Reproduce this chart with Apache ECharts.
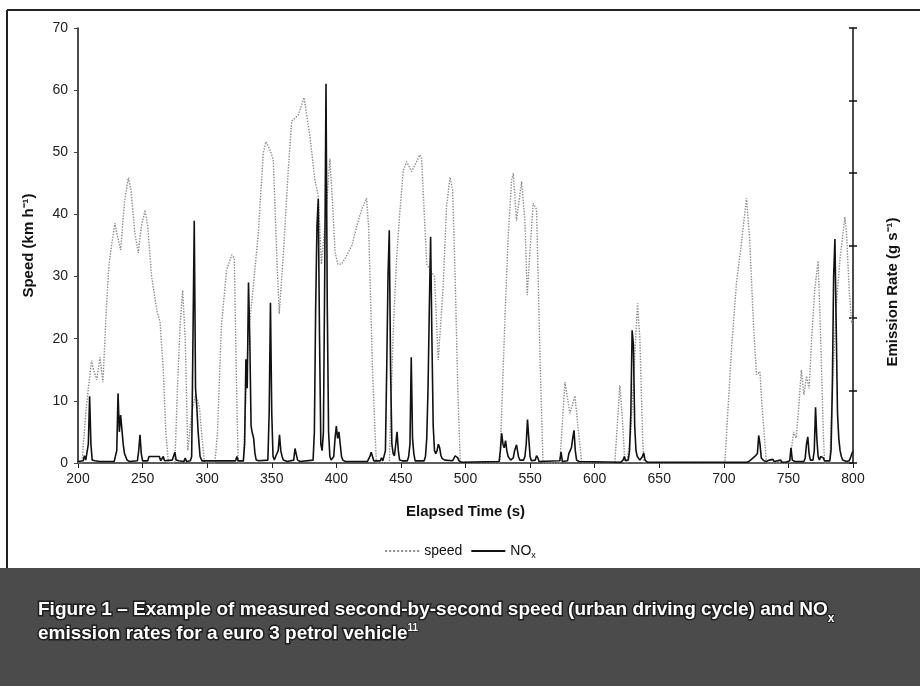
<!DOCTYPE html>
<html><head><meta charset="utf-8">
<script src="https://cdn.jsdelivr.net/npm/echarts@6/dist/echarts.min.js"></script>
<style>html,body{margin:0;padding:0;background:#fff}#c{width:920px;height:686px}</style>
</head><body><div id="c"></div>
<script>
// Elapsed time (s) and speed (km/h)
const speedTime = [200,203,206,208,210.5,212,214.5,217,219.3,222,224,226,228.6,230,233,236,239,241,244,246.7,249,252,254,257,261,263.5,266,268,270,
275,277,279,281,283,285,288,291,294,296,298,
306,308,311,315,319,321,322.5,324,
328,331.8,335.7,339.6,343.4,345.5,348.6,351.2,353.8,355.8,359,362.8,365.4,370.5,375,379.6,383.4,386,388.5,392,395,397,399,401,404,407,412,417,420,423.4,425,428,431,
441,444,446.7,449,451.8,454.4,458.3,461,464.7,466,470,473,476,478.9,482.7,485.3,488,490,492,494,496,
526.6,530.5,533,535.7,537,539.5,543.4,546,547.8,549.8,552.4,555,557.6,560,
573,577,580.8,584.7,587,590,
615.6,619.5,621.5,623.4,625,628,631,633.2,635,637,638,
700.8,706,709.8,714,717.5,720,723,725.3,727.9,730,733,
751,754,756,758,760,762,764,766,768,770.4,773,775,777,778,
782,784,787,790,793.7,795,797,799,800];
const speedValue = [0,0,8,12,16.5,15,13.4,17,13,25,32,35,38.6,37,34.3,42,45.9,44,37,33.8,38,40.7,38,30,24.6,22.7,15,5,0,
0,12,22,27.8,20,2,8,11,9,4,0,
0,5,22,31,33.5,33,15,0,
0,20.3,28.4,37,49.8,51.7,50.4,48.8,33.7,24,33.7,47.2,55,56,58.8,52.5,45.5,43,32,40,49,42,34,32,32,33,35,39,41,42.6,38,15,0,
0,21,33,40,47,48.5,46.9,48,49.6,49,32,31,30,16.6,28.4,41.2,46,44,30,12,0,
0,23,36.4,45.5,46.6,39,45.3,39,27,33.7,41.8,40.8,17.7,0,
0,13,8,10.8,6,0,
0,12.5,7,0,0,5,17,25.7,20,5,0,
0,18.5,29,36,42.6,36,22,14.2,14.7,8,0,
0,5,4,9,15,11,14,12,20,28,32.5,20,5,0,
0,12,25,33,39.6,37,28,22.5,23];

// Elapsed time (s) and NOx emission rate (mg/s)
const noxTime = [200,204,205,206,207,208,209,210,211,213,217,228,230,231,232,233,234,235,236,238,240,246,247,248,249,250,254,255,263,264,265,266,267,273,275,276,278,282,283,284,287,288,289,290,291,292,293,294.5,296,
322,323,324,328,329,330,331,332,333,334,335,336,337,338,340,347,348,349,350,351,352,353,355,356,357,358,359,362,367,368,369,370,372,
382,383,384,385,386,387,388,389,390,391,392,393,394,395,396,398,399,400,401,402,403,404,405,407,
424,426,427,428,429,434,435,436,437,438,439,440,441,442,443,444,445,446,447,448,449,451,455,456,457,458,459,460,461,
468,469,470,471,472,473,474,475,476,477,478,479,480,481,482,484,490,491,492,493,494,495,497,
526,527,528,529,530,531,532,533,535,537,538,539.5,541,542,545,546,547,548,549,550,551,554,555,556,557,
573,574,575,579,580,581,582,583,584,585,586,588,
620,622,623,624,626,627,628,629,630,631,632,633,635,637,638,639,641,
718,720,722,724,726,727,728,729,731,733,735,736,738,739,744,745,748,751,752,753,755,762,763,764,765,766,767,769,770,771,772,773,774,775,776,777,778,
782,783,784,785,786,787,788,789,790,791,792,795,797,798,799,800];
const noxValue = [2,3,10,4,4,26,92,26,4,3,2,2,17,96,43,66,66,26,13,4,2,3,17,39,13,3,3,9,9,3,4,9,3,4,15,4,3,2,7,2,3,9,171,334,103,77,43,9,3,
3,9,3,3,26,143,103,249,171,51,41,34,13,4,3,4,69,221,69,9,4,9,17,39,17,9,4,2,4,20,20,4,2,
4,43,214,326,364,171,26,17,43,257,523,214,43,9,4,9,34,51,34,43,26,9,4,2,
2,9,15,9,3,3,7,3,3,17,129,257,321,129,26,13,10,26,43,17,4,3,3,9,26,146,34,13,3,
3,9,34,103,214,312,171,51,17,13,17,26,21,10,6,4,3,5,10,12,7,3,1,
2,17,41,26,21,31,17,9,4,7,17,25,9,4,4,9,26,60,34,9,3,4,10,7,2,
3,15,2,3,13,17,21,34,45,17,4,2,
1,4,9,3,4,17,69,183,163,51,17,9,4,9,14,4,1,
1,3,6,9,13,38,26,7,3,2,4,2,5,2,4,1,1,3,21,4,2,2,7,26,36,13,4,4,17,77,34,9,4,9,11,7,3,
3,17,103,257,309,189,69,34,17,9,4,2,3,7,12,17];

// Tick labels
const xTickLabels = [200,250,300,350,400,450,500,550,600,650,700,750,800];
const yTickLabels = [0,10,20,30,40,50,60,70];
const rightTicks = [0,100,200,300,400,500,600];

const speedData = speedTime.map((t,i)=>[t,speedValue[i]]);
const noxData = noxTime.map((t,i)=>[t,noxValue[i]]);

const FONT = "'Liberation Sans', Arial, sans-serif";
const CAP = "'Liberation Sans Narrow', 'Liberation Sans', sans-serif";
const chart = echarts.init(document.getElementById('c'), null, {renderer:'canvas'});
const rightAxisBase = {
  type:'value', position:'right',
  min: rightTicks[0], max: rightTicks[rightTicks.length-1], interval: rightTicks[1]-rightTicks[0],
  axisLabel:{show:false}, splitLine:{show:false}
};
chart.setOption({
  backgroundColor:'#ffffff',
  animation:false,
  grid:{left:78, right:67, top:28, bottom:223, containLabel:false},
  legend:{
    data:['speed','NOx'], left:'center', top:539, itemWidth:34, itemHeight:10, itemGap:8,
    itemStyle:{opacity:0, borderWidth:0},
    textStyle:{fontFamily:FONT, fontSize:14, color:'#111', rich:{s:{fontFamily:FONT,fontSize:9,color:'#111',verticalAlign:'bottom',lineHeight:18}}},
    formatter: n => n === 'NOx' ? 'NO{s|x}' : n
  },
  xAxis:[{
    type:'value', min:xTickLabels[0], max:xTickLabels[xTickLabels.length-1], interval:xTickLabels[1]-xTickLabels[0],
    position:'bottom',
    axisLine:{show:true, lineStyle:{color:'#111', width:2}},
    axisTick:{show:true, length:5, lineStyle:{color:'#222', width:1}},
    axisLabel:{fontFamily:FONT, fontSize:14, color:'#222', margin:9},
    splitLine:{show:false},
    name:'Elapsed Time (s)', nameLocation:'middle', nameGap:41,
    nameTextStyle:{fontFamily:FONT, fontSize:15, fontWeight:'bold', color:'#111'}
  },{
    type:'value', min:xTickLabels[0], max:xTickLabels[xTickLabels.length-1], position:'top',
    axisLine:{show:true, lineStyle:{color:'#777', width:1.5}},
    axisTick:{show:false}, axisLabel:{show:false}, splitLine:{show:false}
  }],
  yAxis:[{
    type:'value', min:yTickLabels[0], max:yTickLabels[yTickLabels.length-1], interval:yTickLabels[1]-yTickLabels[0],
    position:'left',
    axisLine:{show:true, lineStyle:{color:'#111', width:1.5}},
    axisTick:{show:true, length:4, lineStyle:{color:'#444'}},
    axisLabel:{fontFamily:FONT, fontSize:14, color:'#222', margin:10},
    splitLine:{show:false},
    name:'Speed (km h\u207B\u00B9)', nameLocation:'middle', nameGap:42, nameRotate:90,
    nameTextStyle:{fontFamily:FONT, fontSize:15, fontWeight:'bold', color:'#111'}
  },
  Object.assign({}, rightAxisBase, {
    axisLine:{show:true, lineStyle:{color:'#111', width:1.5}},
    axisTick:{show:true, length:4, inside:false, lineStyle:{color:'#111', width:1.5}}
  }),
  Object.assign({}, rightAxisBase, {
    axisLine:{show:false},
    axisTick:{show:true, length:4, inside:true, lineStyle:{color:'#111', width:1.5}}
  })],
  series:[{
    name:'speed', type:'line', xAxisIndex:0, yAxisIndex:0, data:speedData,
    symbol:'none', showSymbol:false, z:2,
    lineStyle:{color:'#8c8c8c', width:1.4, type:'dotted'},
    itemStyle:{color:'#8c8c8c'}
  },{
    name:'NOx', type:'line', xAxisIndex:0, yAxisIndex:1, data:noxData,
    symbol:'none', showSymbol:false, z:3,
    lineStyle:{color:'#111', width:1.6},
    itemStyle:{color:'#111'}
  }],
  graphic:[
    {type:'line', shape:{x1:7,y1:10,x2:920,y2:10}, style:{stroke:'#222', lineWidth:2}, z:10},
    {type:'line', shape:{x1:7,y1:10,x2:7,y2:568}, style:{stroke:'#222', lineWidth:2}, z:10},
    {type:'rect', shape:{x:0,y:568,width:920,height:118}, style:{fill:'#4b4b4b'}, z:10},
    {type:'text', x:893, y:292, rotation:Math.PI/2, z:10,
     style:{text:'Emission Rate (g s\u207B\u00B9)', fontFamily:FONT, fontSize:15, fontWeight:'bold', fill:'#111', align:'center', verticalAlign:'middle'}},
    {type:'text', x:38, y:610, z:11,
     style:{text:'{a|Figure 1 \u2013 Example of measured second-by-second speed (urban driving cycle) and NO}{b|x}',
       align:'left', verticalAlign:'middle',
       rich:{
         a:{fontFamily:CAP, fontSize:19, fontWeight:'bold', fill:'#fff', stroke:'#1e1e1e', lineWidth:3, lineHeight:22},
         b:{fontFamily:CAP, fontSize:12, fontWeight:'bold', fill:'#fff', stroke:'#1e1e1e', lineWidth:2, lineHeight:30, verticalAlign:'bottom'}
       }}},
    {type:'text', x:38, y:634, z:11,
     style:{text:'{a|emission rates for a euro 3 petrol vehicle}{c|11}',
       align:'left', verticalAlign:'middle',
       rich:{
         a:{fontFamily:CAP, fontSize:19, fontWeight:'bold', fill:'#fff', stroke:'#1e1e1e', lineWidth:3, lineHeight:22},
         c:{fontFamily:CAP, fontSize:10, fontWeight:'bold', fill:'#fff', stroke:'#1e1e1e', lineWidth:1.5, lineHeight:12, verticalAlign:'top'}
       }}}
  ]
});
</script></body></html>
